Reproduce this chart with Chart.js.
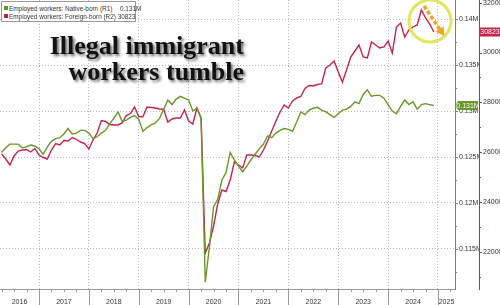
<!DOCTYPE html>
<html>
<head>
<meta charset="utf-8">
<script src="https://cdn.jsdelivr.net/npm/chart.js@4/dist/chart.umd.min.js"></script>
<style>
html, body { margin: 0; padding: 0; background: #fff; }
#wrap { position: relative; width: 500px; height: 305px; overflow: hidden; }
#title {
    position: absolute; right: 256px; top: 33px;
    font-family: 'Liberation Serif', serif; font-weight: bold; font-size: 26px;
    line-height: 26px; text-align: right; color: #111; white-space: nowrap;
    text-shadow: 2px 2px 3px rgba(0,0,0,0.6);
}
#legend {
    position: absolute; left: 1px; top: 1px; width: 133px; height: 19px;
    border: 1px solid #999; background: #fff;
    font-family: 'Liberation Sans', sans-serif; font-size: 6.4px; color: #333;
}
#legend .row { position: absolute; left: 7px; white-space: nowrap; line-height: 7px; }
#legend .sw { position: absolute; left: -5px; top: 1px; width: 4px; height: 4px; }
#legend .val { position: absolute; left: 111px; top: 0; }
</style>
</head>
<body>
<div id="wrap">
    <canvas id="myChart" width="500" height="305"></canvas>
    <div id="legend">
        <div class="row" style="top:3px"><span class="sw" style="background:#5c9a22"></span>Employed workers: Native-born (R1)<span class="val" id="v1"></span></div>
        <div class="row" style="top:11px"><span class="sw" style="background:#c21f45"></span>Employed workers: Foreign-born (R2) <span id="v2"></span></div>
    </div>
    <div id="title">Illegal immigrant<br>workers tumble</div>
</div>
<script>
// first month of the series (month-end values)
const firstYear = 2016;
const firstMonth = 3;

// Employed workers, native-born (millions, as shown on R1)
const nativeBorn = [
    0.1255, 0.1260, 0.1264, 0.1264, 0.1264, 0.1260, 0.1261, 0.1263, 0.1262, 0.1259,
    0.1253, 0.1261, 0.1267, 0.1270, 0.1271, 0.1275, 0.1281, 0.1275, 0.1276, 0.1279,
    0.1279, 0.1276, 0.1270, 0.1272, 0.1276, 0.1279, 0.1286, 0.1292, 0.1299, 0.1289,
    0.1290, 0.1293, 0.1295, 0.1291, 0.1278, 0.1282, 0.1285, 0.1287, 0.1292, 0.1302,
    0.1312, 0.1307, 0.1313, 0.1316, 0.1314, 0.1312, 0.1300, 0.1303, 0.1292, 0.1114,
    0.1152, 0.1196, 0.1204, 0.1225, 0.1233, 0.1255, 0.1247, 0.1240, 0.1234, 0.1240,
    0.1247, 0.1253, 0.1259, 0.1264, 0.1273, 0.1271, 0.1276, 0.1279, 0.1281, 0.1280,
    0.1278, 0.1288, 0.1299, 0.1296, 0.1301, 0.1303, 0.1304, 0.1301, 0.1299, 0.1296,
    0.1293, 0.1297, 0.1301, 0.1302, 0.1305, 0.1310, 0.1308, 0.1318, 0.1323, 0.1316,
    0.1317, 0.1317, 0.1314, 0.1307, 0.1300, 0.1297, 0.1305, 0.1312, 0.1307, 0.1310,
    0.1302, 0.1307, 0.1308, 0.1307, 0.1306
];

// Employed workers, foreign-born (thousands, R2)
const foreignBorn = [
    25927, 25726, 25485, 25847, 26047, 26087, 26107, 26007, 26148, 25887,
    25786, 25726, 26087, 26348, 26288, 26469, 26449, 26589, 26509, 26408,
    26348, 26128, 26489, 26770, 27271, 27231, 27111, 27091, 27091, 27171,
    27472, 27552, 27813, 27432, 27424, 27813, 27793, 27773, 27733, 27713,
    27211, 27332, 27372, 27372, 27693, 27251, 27131, 27773, 27372, 21953,
    22354, 23037, 23920, 24482, 24421, 24883, 25606, 25485, 25365, 25887,
    25887, 25867, 25806, 26087, 26449, 26850, 27251, 27613, 27894, 27773,
    28054, 28175, 28235, 28556, 28676, 28656, 28717, 28737, 29379, 29499,
    29660, 29218, 28817, 29299, 29820, 30061, 30302, 29820, 29780, 30422,
    30302, 30182, 30222, 30463, 29981, 31025, 31185, 30623, 30904, 31025,
    31105, 31707, 31386, 31145, 30823
];

const yearLabels = ['2016', '2017', '2018', '2019', '2020', '2021', '2022', '2023', '2024', '2025'];
const nativeTicks = [0.115, 0.12, 0.125, 0.13, 0.135, 0.14];
const foreignTicks = [22000, 24000, 26000, 28000, 30000, 32000];

const GREEN = 'rgb(104,152,40)';
const RED = 'rgb(196,36,78)';
const FONT = "'Liberation Sans Narrow', 'Liberation Sans', sans-serif";

// month-end position of each value, in fractional years
const months = nativeBorn.map((v, i) => firstYear + (firstMonth + i) / 12);

const xMin = 2016.218, xMax = 2025.341;
const yearEdges = [];
const labelSpots = {};
yearLabels.forEach(l => {
    const yr = +l;
    if (yr > xMin) yearEdges.push(yr);
    const c = (Math.max(yr, xMin) + Math.min(yr + 1, xMax)) / 2;
    labelSpots[c.toFixed(4)] = l;
});

document.getElementById('v1').textContent = nativeBorn[nativeBorn.length - 1].toFixed(3) + 'M';
document.getElementById('v2').textContent = foreignBorn[foreignBorn.length - 1];

function line(ctx, x1, y1, x2, y2) {
    ctx.beginPath(); ctx.moveTo(x1, y1); ctx.lineTo(x2, y2); ctx.stroke();
}

const decor = {
    id: 'decor',
    afterDraw(chart) {
        const { ctx, chartArea: a, scales: { x, y, y2 } } = chart;
        ctx.save();
        ctx.lineWidth = 1;

        // year separators below the axis and quarter ticks
        ctx.strokeStyle = '#9a9a9a';
        yearEdges.forEach(v => {
            const px = Math.round(x.getPixelForValue(v)) + 0.5;
            line(ctx, px, a.bottom, px, 305);
        });
        for (let yr = 2016; yr <= 2025; yr++) {
            [0.25, 0.5, 0.75].forEach(q => {
                const v = yr + q;
                if (v <= xMin || v >= xMax) return;
                const px = Math.round(x.getPixelForValue(v)) + 0.5;
                line(ctx, px, a.bottom, px, a.bottom + 3);
            });
        }

        // tick marks on the two right axes
        const marks = (scale, ticks, color) => {
            ctx.strokeStyle = color;
            const x0 = scale.left;
            const step = ticks[1] - ticks[0];
            ticks.forEach(v => {
                const py = Math.round(scale.getPixelForValue(v)) + 0.5;
                line(ctx, x0, py, x0 + 3, py);
                [v - step / 2, v + step / 2].forEach(m => {
                    if (m < scale.min || m > scale.max) return;
                    const pm = Math.round(scale.getPixelForValue(m)) + 0.5;
                    line(ctx, x0, pm, x0 + 2, pm);
                });
            });
        };
        marks(y, nativeTicks, GREEN);
        marks(y2, foreignTicks, RED);

        // last value boxes
        ctx.font = '7px ' + FONT;
        ctx.textBaseline = 'middle';
        ctx.textAlign = 'center';
        const gv = nativeBorn[nativeBorn.length - 1];
        const gy = y.getPixelForValue(gv);
        ctx.fillStyle = GREEN;
        ctx.beginPath();
        ctx.moveTo(y.left, gy);
        ctx.lineTo(y.left + 3, gy - 4.5);
        ctx.lineTo(y.right - 1, gy - 4.5);
        ctx.lineTo(y.right - 1, gy + 4.5);
        ctx.lineTo(y.left + 3, gy + 4.5);
        ctx.closePath();
        ctx.fill();
        ctx.fillStyle = '#fff';
        ctx.fillText(gv.toFixed(3) + 'M', (y.left + y.right + 2) / 2, gy + 0.5);

        const rv = foreignBorn[foreignBorn.length - 1];
        const ry = y2.getPixelForValue(rv);
        ctx.fillStyle = RED;
        ctx.fillRect(y2.left + 1, ry - 4.5, y2.right - y2.left - 1, 9);
        ctx.fillStyle = '#fff';
        ctx.fillText(String(rv), (y2.left + y2.right + 1) / 2, ry + 0.5);

        // highlight circle and arrow
        const cx = x.getPixelForValue(2024.84), cy = y2.getPixelForValue(31265);
        ctx.strokeStyle = 'rgba(222,228,70,0.9)';
        ctx.lineWidth = 3;
        ctx.beginPath(); ctx.arc(cx, cy, 21, 0, Math.PI * 2); ctx.stroke();

        const ax1 = x.getPixelForValue(2024.72), ay1 = y2.getPixelForValue(31864);
        const ax2 = x.getPixelForValue(2025.10), ay2 = y2.getPixelForValue(30744);
        const ang = Math.atan2(ay2 - ay1, ax2 - ax1);
        ctx.strokeStyle = 'rgb(242,165,35)';
        ctx.fillStyle = 'rgb(242,165,35)';
        ctx.lineWidth = 3.5;
        ctx.setLineDash([4, 2]);
        line(ctx, ax1, ay1, ax2 - 5 * Math.cos(ang), ay2 - 5 * Math.sin(ang));
        ctx.setLineDash([]);
        ctx.beginPath();
        ctx.moveTo(ax2 + 2 * Math.cos(ang), ay2 + 2 * Math.sin(ang));
        ctx.lineTo(ax2 - 6 * Math.cos(ang) + 5 * Math.sin(ang), ay2 - 6 * Math.sin(ang) - 5 * Math.cos(ang));
        ctx.lineTo(ax2 - 6 * Math.cos(ang) - 5 * Math.sin(ang), ay2 - 6 * Math.sin(ang) + 5 * Math.cos(ang));
        ctx.closePath();
        ctx.fill();

        ctx.restore();
    }
};

new Chart(document.getElementById('myChart').getContext('2d'), {
    type: 'line',
    data: {
        datasets: [
            {
                label: 'Employed workers: Native-born (R1)',
                data: months.map((m, i) => ({ x: m, y: nativeBorn[i] })),
                borderColor: GREEN,
                borderWidth: 1.4,
                pointRadius: 0,
                yAxisID: 'y'
            },
            {
                label: 'Employed workers: Foreign-born (R2)',
                data: months.map((m, i) => ({ x: m, y: foreignBorn[i] })),
                borderColor: RED,
                borderWidth: 1.4,
                pointRadius: 0,
                yAxisID: 'y2'
            }
        ]
    },
    options: {
        responsive: false,
        animation: false,
        devicePixelRatio: 1,
        layout: { padding: 0 },
        plugins: { legend: { display: false }, tooltip: { enabled: false } },
        scales: {
            x: {
                type: 'linear',
                min: xMin,
                max: xMax,
                afterBuildTicks: axis => {
                    const vals = yearEdges.concat(Object.keys(labelSpots).map(Number));
                    axis.ticks = vals.sort((a, b) => a - b).map(v => ({ value: v }));
                },
                afterFit: s => { s.height = 16; s.paddingLeft = 0; s.paddingRight = 0; },
                grid: {
                    color: c => (c.tick && Number.isInteger(c.tick.value)) ? '#b8b8b8' : 'rgba(0,0,0,0)',
                    drawTicks: false
                },
                border: { color: '#9a9a9a', dash: [1, 2] },
                ticks: {
                    autoSkip: false,
                    maxRotation: 0,
                    padding: 9,
                    color: '#333',
                    font: { family: FONT, size: 7 },
                    callback: v => labelSpots[Number(v).toFixed(4)] || ''
                }
            },
            y: {
                position: 'right',
                weight: 0,
                min: 0.11065,
                max: 0.14207,
                afterBuildTicks: axis => { axis.ticks = nativeTicks.map(v => ({ value: v })); },
                afterFit: s => { s.width = 24; s.paddingTop = 0; s.paddingBottom = 0; },
                grid: { color: '#b8b8b8', drawTicks: false },
                border: { color: GREEN, dash: [1, 2] },
                ticks: {
                    padding: 4,
                    color: '#333',
                    font: { family: FONT, size: 7 },
                    callback: v => v + 'M'
                }
            },
            y2: {
                position: 'right',
                weight: 1,
                min: 20508,
                max: 32108,
                afterBuildTicks: axis => { axis.ticks = foreignTicks.map(v => ({ value: v })); },
                afterFit: s => { s.width = 21; s.paddingTop = 0; s.paddingBottom = 0; },
                grid: { drawOnChartArea: false, drawTicks: false },
                border: { color: RED },
                ticks: {
                    padding: 4,
                    color: '#333',
                    font: { family: FONT, size: 7 },
                    callback: v => String(v)
                }
            }
        }
    },
    plugins: [decor]
});
</script>
</body>
</html>
